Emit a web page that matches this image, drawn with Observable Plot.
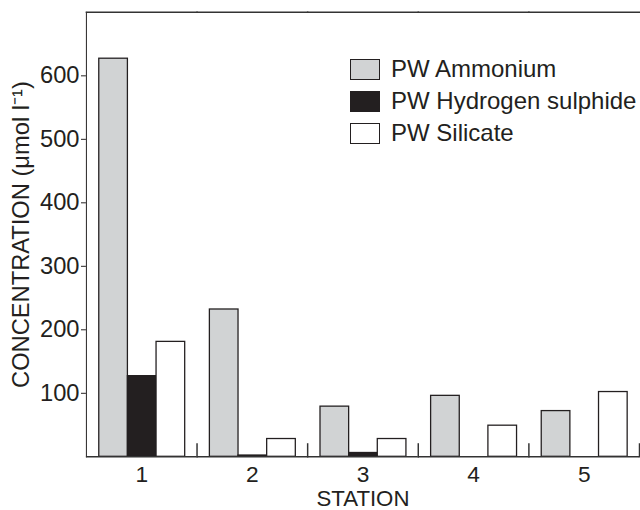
<!DOCTYPE html>
<html><head><meta charset="utf-8">
<script src="https://cdn.jsdelivr.net/npm/d3@7"></script>
<script src="https://cdn.jsdelivr.net/npm/@observablehq/plot@0.6"></script>
<style>
body{margin:0;overflow:hidden;background:#fff;font-family:"Liberation Sans",Arial,sans-serif;}
#wrap{position:relative;width:640px;height:510px;overflow:hidden;}
#legend{position:absolute;left:350px;top:53px;font-size:24px;color:#231f20;}
.row{display:flex;align-items:center;height:32px;}
.sw{box-sizing:border-box;width:30px;height:21px;border:1.4px solid #231f20;margin-right:11px;}
g[aria-label="fx-axis tick label"]{font-size:23px;}
g[aria-label="fx-axis label"]{font-size:22.5px;}
</style></head><body><div id="wrap"><div id="legend"></div></div>
<script>
const stations = [1, 2, 3, 4, 5];
const series = ["PW Ammonium", "PW Hydrogen sulphide", "PW Silicate"];
const ammonium = [627, 232, 79, 96, 72];
const sulphide = [127, 2, 6, 0, 0];
const silicate = [181, 28, 28, 49, 102];
const colors = ["#d1d3d4", "#231f20", "#ffffff"];
const yTicks = [100, 200, 300, 400, 500, 600];

const valuesBySeries = [ammonium, sulphide, silicate];
const data = stations.flatMap((s, i) =>
  series.map((name, k) => ({station: s, series: name, value: valuesBySeries[k][i]}))
).filter(d => d.value > 0);

const chart = Plot.plot({
  width: 648, height: 510,
  marginLeft: 87, marginRight: 1, marginTop: 12, marginBottom: 48,
  style: {fontFamily: "Liberation Sans, Arial, sans-serif", fontSize: "24px", color: "#231f20", background: "white", overflow: "visible"},
  fx: {domain: stations, padding: 0, axis: "bottom", label: "STATION", labelAnchor: "center", labelArrow: false, tickSize: 0, tickPadding: 9, labelOffset: 50},
  x: {domain: series, paddingInner: 0, paddingOuter: 0.4, axis: null},
  y: {domain: [0, 700], ticks: yTicks, tickSize: 5, tickPadding: 2, label: "CONCENTRATION (μmol l⁻¹)", labelAnchor: "center", labelArrow: false, labelOffset: 75, line: true},
  color: {domain: series, range: colors},
  marks: [
    Plot.barY(data, {fx: "station", x: "series", y: "value", fill: "series", stroke: "#231f20", strokeWidth: 1.3}),
    Plot.frame({anchor: "top", stroke: "#333", strokeWidth: 1.5}),
    Plot.frame({anchor: "right", insetTop: 437, stroke: "#333", strokeWidth: 1.5}),
    Plot.ruleY([0], {stroke: "#333", strokeWidth: 1.5})
  ]
});
document.getElementById("wrap").prepend(chart);

const legend = document.getElementById("legend");
series.forEach((name, k) => {
  const row = document.createElement("div");
  row.className = "row";
  const sw = document.createElement("div");
  sw.className = "sw";
  sw.style.background = colors[k];
  const label = document.createElement("span");
  label.textContent = name;
  row.append(sw, label);
  legend.append(row);
});
</script></body></html>
